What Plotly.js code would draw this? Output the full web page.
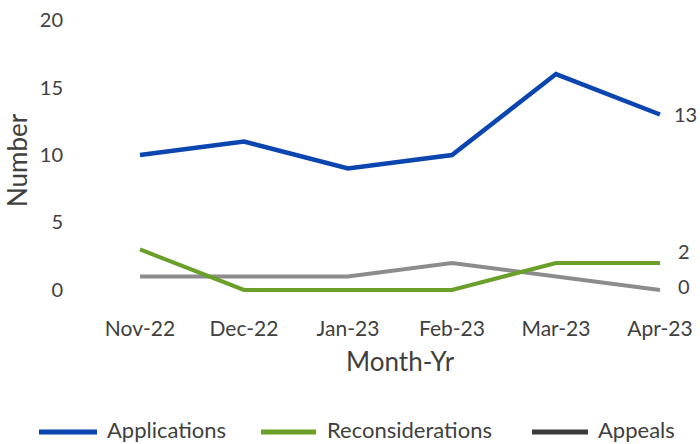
<!DOCTYPE html>
<html>
<head>
<meta charset="utf-8">
<script src="https://cdn.plot.ly/plotly-3.0.1.min.js"></script>
<style>html,body{margin:0;padding:0;background:#fff;}#chart{width:700px;height:444px;}</style>
</head>
<body>
<div id="chart"></div>
<script>
const months = ["Nov-22", "Dec-22", "Jan-23", "Feb-23", "Mar-23", "Apr-23"];
const applications = [10, 11, 9, 10, 16, 13];
const reconsiderations = [3, 0, 0, 0, 2, 2];
const appeals = [1, 1, 1, 2, 1, 0];
const yTicks = [0, 5, 10, 15, 20];

const FONT = "Lato, 'Open Sans', sans-serif";
const TXT = "#404040";
const C_APP = "#0b45b0", C_REC = "#6a9f2a", C_APL = "#8c8c8c", C_APL_LEG = "#3a3a3a";

const series = [
  {name: "Applications", y: applications, color: C_APP, w: 4.5},
  {name: "Reconsiderations", y: reconsiderations, color: C_REC, w: 4},
  {name: "Appeals", y: appeals, color: C_APL, w: 4}
];

const traces = [series[2], series[1], series[0]].map(s => ({
  type: "scatter", mode: "lines", x: months, y: s.y, name: s.name,
  line: {color: s.color, width: s.w}, cliponaxis: false, showlegend: false
}));

const last = months.length - 1;
const annotations = [
  {x: months[last], y: applications[last], text: String(applications[last]), xshift: 26, yshift: 1},
  {x: months[last], y: reconsiderations[last], text: String(reconsiderations[last]), xshift: 24, yshift: 12},
  {x: months[last], y: appeals[last], text: String(appeals[last]), xshift: 24, yshift: 4}
].map(a => Object.assign(a, {xref: "x", yref: "y", showarrow: false, xanchor: "center",
  font: {family: FONT, size: 20, color: TXT}}));

const plotL = 88, plotW = 612, plotT = 16, plotH = 278;
const px = x => (x - plotL) / plotW;
const py = y => 1 - (y - plotT) / plotH;

annotations.push({xref: "paper", yref: "paper", x: px(400), y: py(361), yanchor: "middle", xanchor: "center",
  text: "Month-Yr", showarrow: false, font: {family: FONT, size: 26, color: TXT}});
annotations.push({xref: "paper", yref: "paper", x: px(17), y: py(160), xanchor: "center", yanchor: "middle",
  textangle: -90, text: "Number", showarrow: false, font: {family: FONT, size: 26, color: TXT}});

// manual legend (paper coordinates)
const legItems = [
  {name: "Applications", color: C_APP, x0: 39, x1: 97, tx: 105},
  {name: "Reconsiderations", color: C_REC, x0: 261, x1: 316, tx: 325},
  {name: "Appeals", color: C_APL_LEG, x0: 532, x1: 588, tx: 596}
];
const shapes = [];
legItems.forEach(it => {
  shapes.push({type: "line", xref: "paper", yref: "paper",
    x0: px(it.x0), x1: px(it.x1), y0: py(432), y1: py(432),
    line: {color: it.color, width: 5}});
  annotations.push({xref: "paper", yref: "paper", x: px(it.tx), y: py(429),
    xanchor: "left", yanchor: "middle", text: it.name, showarrow: false,
    font: {family: FONT, size: 22, color: TXT}});
});

const layout = {
  width: 700, height: 444,
  margin: {l: plotL, r: 0, t: plotT, b: 444 - plotT - plotH},
  paper_bgcolor: "#fff", plot_bgcolor: "#fff",
  showlegend: false,
  font: {family: FONT, color: TXT},
  xaxis: {
    type: "category", range: [-0.5, 5.385], showgrid: false, zeroline: false, showline: false,
    ticks: "outside", ticklen: 16, tickcolor: "rgba(0,0,0,0)",
    tickfont: {family: FONT, size: 21, color: TXT}
  },
  yaxis: {
    range: [-0.3, 20.3], tickvals: yTicks, ticktext: yTicks.map(String),
    showgrid: false, zeroline: false, showline: false,
    ticks: "outside", ticklen: 20, tickcolor: "rgba(0,0,0,0)",
    tickfont: {family: FONT, size: 20, color: TXT}
  },
  annotations: annotations,
  shapes: shapes
};

Plotly.newPlot("chart", traces, layout, {displayModeBar: false, staticPlot: true});
</script>
</body>
</html>
